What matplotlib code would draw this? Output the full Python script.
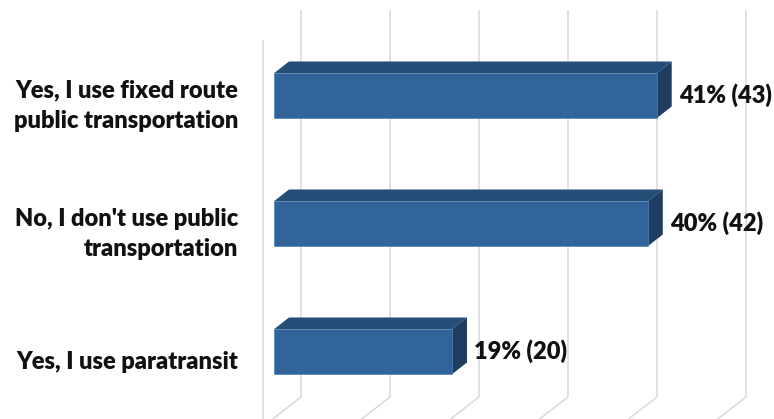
import matplotlib
matplotlib.use("Agg")
import matplotlib.pyplot as plt

categories = [
    "Yes, I use fixed route\npublic transportation",
    "No, I don't use public\ntransportation",
    "Yes, I use paratransit",
]
counts = [43, 42, 20]
percents = [41, 40, 19]
grid_ticks = [0, 10, 20, 30, 40, 50]

W, H, DPI = 774, 419, 100
PX_PER_UNIT = 8.9        # horizontal pixels per respondent
PX_PER_CAT = 128         # vertical pixels between category rows
X0_PX = 274              # pixel column of value 0 on the bar-front plane
Y0_PX = 95.7             # pixel row of the first category (from top)
BAR_H = 45 / PX_PER_CAT  # bar thickness in category units
SLOPE = 0.78             # rise per unit of depth shift

# depth planes, expressed as horizontal pixel shift from the bar-front plane
D_WALL_FRONT = -11
D_BAR_BACK = 15
D_WALL_BACK = 27
WALL_TOP_PX = 31
FLOOR_PX = 418

FRONT = "#30649a"
TOP = "#244d77"
SIDE = "#1e3d60"
GRID = "#d9d9d9"

fig = plt.figure(figsize=(W / DPI, H / DPI), dpi=DPI)
ax = fig.add_axes([0, 0, 1, 1])
ax.set_xlim(-X0_PX / PX_PER_UNIT, (W - X0_PX) / PX_PER_UNIT)
ax.set_ylim((H - Y0_PX) / PX_PER_CAT, -Y0_PX / PX_PER_CAT)
ax.axis("off")


def shift(d):
    """Data-space offset of a depth plane shifted d pixels to the right."""
    return d / PX_PER_UNIT, -SLOPE * d / PX_PER_CAT


def row(px):
    return (px - Y0_PX) / PX_PER_CAT


wall_top, floor = row(WALL_TOP_PX), row(FLOOR_PX)

# back wall gridlines and their floor continuation
bx, by = shift(D_WALL_BACK)
fx, fy = shift(D_WALL_FRONT)
for t in grid_ticks:
    ax.plot([t + bx, t + bx], [wall_top + by, floor + by], color=GRID, lw=1.1,
            zorder=1, solid_capstyle="butt")
    ax.plot([t + bx, t + fx], [floor + by, floor + fy], color=GRID, lw=1.1,
            zorder=1, solid_capstyle="butt")
# front edge of the side wall
ax.plot([fx, fx], [wall_top + fy, floor + fy + 1], color=GRID, lw=1.1,
        zorder=1, solid_capstyle="butt")

# 3-D bars: top and side faces, then the front face
kx, ky = shift(D_BAR_BACK)
ypos = list(range(len(categories)))
for y, v in zip(ypos, counts):
    top = y - BAR_H / 2
    bot = y + BAR_H / 2
    ax.fill([0, v, v + kx, kx], [top, top, top + ky, top + ky],
            color=TOP, lw=0, zorder=2)
    ax.fill([v, v + kx, v + kx, v], [top, top + ky, bot + ky, bot],
            color=SIDE, lw=0, zorder=2)
ax.barh(ypos, counts, height=BAR_H, left=0, color=FRONT,
        edgecolor="#4f80b5", linewidth=0.5, zorder=3)

font = dict(family=["Lato", "DejaVu Sans"], weight="heavy", size=17,
            color="#111111")

# value labels beyond the bar ends
for y, v, p in zip(ypos, counts, percents):
    ax.annotate(f"{p}% ({v})", xy=(v + kx, y), xytext=(5.0, 0.5),
                textcoords="offset points", ha="left", va="center", **font)

# category labels to the left of the bars
for y, lab in zip(ypos, categories):
    ax.annotate(lab, xy=(0, y), xytext=(-26, -7.5),
                textcoords="offset points", ha="right", va="center",
                multialignment="right", linespacing=1.48, **font)

fig.savefig("out.png", dpi=DPI)
